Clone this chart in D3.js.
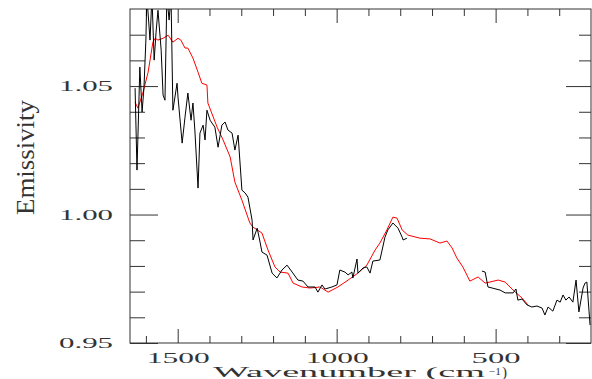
<!doctype html>
<html>
  <head>
    <meta charset="utf-8" />
    <script src="https://cdn.jsdelivr.net/npm/d3@7"></script>
    <style>
      body{margin:0;padding:0;background:#fff;}
      text{font-family:"Liberation Serif",serif;fill:#333;}
    </style>
  </head>
  <body>
<script>

  // dimensioni della finestra e dell'area del grafico
  var W = 592, H = 379;
  var margin = {top: 9, right: 1, bottom: 36, left: 130};
  var width  = W - margin.left - margin.right;
  var height = H - margin.top - margin.bottom;

  // tick
  var yMajor = [0.95, 1.00, 1.05];
  var yMinor = [0.96, 0.97, 0.98, 0.99, 1.01, 1.02, 1.03, 1.04, 1.06, 1.07];
  var xMajor = [1500, 1000, 500];
  var xMinor = [1600, 1400, 1300, 1200, 1100, 900, 800, 700, 600, 400, 300];

  // spettro misurato (nero), due tratti separati: [numero d'onda, emissivita']
  var measuredA = [
    [1634,1.0492],[1628,1.0173],[1619,1.0574],[1612,1.0399],[1606,1.0496],[1600,1.0679],
    [1597,1.085],[1587,1.0679],[1581,1.085],[1574,1.0601],[1568,1.0710],[1562,1.0795],
    [1552,1.0640],[1546,1.0465],[1540,1.0445],[1534,1.085],[1527,1.0757],[1521,1.085],
    [1515,1.0406],[1502,1.0511],[1499,1.0457],[1486,1.0278],[1477,1.0379],[1468,1.0473],
    [1458,1.0367],[1452,1.0434],[1446,1.0329],[1436,1.0103],[1430,1.0317],[1420,1.0348],
    [1414,1.0290],[1408,1.0406],[1398,1.0367],[1392,1.0356],[1383,1.0340],[1373,1.0262],
    [1361,1.0348],[1351,1.0360],[1342,1.0329],[1329,1.0317],[1320,1.0251],[1310,1.0309],
    [1298,1.0095],[1288,1.0084],[1279,1.0068],[1266,0.9978],[1263,0.9901],[1250,0.9947],
    [1241,0.9893],[1235,0.9854],[1219,0.9842],[1203,0.9772],[1188,0.9753],[1172,0.9784],
    [1156,0.9803],[1140,0.9776],[1122,0.9745],[1106,0.9741],[1090,0.9718],[1068,0.9718],
    [1059,0.9698],[1046,0.9726],[1037,0.9710],[1015,0.9718],[999,0.9726],[990,0.9784],
    [974,0.9776],[964,0.9765],[952,0.9776],[949,0.9753],[936,0.9827],[933,0.9772],
    [917,0.9792],[905,0.9796],[895,0.9772],[886,0.9819],[864,0.9823],[848,0.9912],
    [839,0.9940],[823,0.9967],[807,0.9947],[794,0.9912],[791,0.9901],[779,0.9908]
  ];
  var measuredB = [
    [543,0.9780],[533,0.9776],[524,0.9718],[511,0.9714],[486,0.9706],[470,0.9695],
    [445,0.9695],[436,0.9710],[430,0.9667],[417,0.9671],[401,0.9648],[386,0.9640],
    [370,0.9644],[354,0.9636],[345,0.9609],[335,0.9640],[320,0.9624],[307,0.9667],
    [297,0.9659],[288,0.9687],[279,0.9667],[269,0.9679],[257,0.9659],[247,0.9745],
    [238,0.9621],[225,0.9714],[219,0.9733],[213,0.9737],[206,0.9621],[203,0.9570]
  ];

  // spettro modello (rosso)
  var model = [
    [1634,1.0437],[1625,1.0414],[1609,1.0476],[1593,1.0554],[1578,1.0671],[1571,1.0686],
    [1562,1.0679],[1546,1.0686],[1530,1.0698],[1515,1.0671],[1499,1.0686],[1490,1.0679],
    [1477,1.0648],[1468,1.0648],[1452,1.0609],[1436,1.0554],[1424,1.0511],[1408,1.0504],
    [1405,1.0434],[1376,1.0340],[1357,1.0290],[1335,1.0224],[1320,1.0126],[1298,1.0056],
    [1273,0.9967],[1263,0.9951],[1235,0.9928],[1216,0.9862],[1194,0.9796],[1178,0.9776],
    [1153,0.9772],[1137,0.9733],[1109,0.9718],[1084,0.9714],[1052,0.9718],[1027,0.9698],
    [996,0.9718],[964,0.9745],[933,0.9772],[905,0.9803],[879,0.9862],[864,0.9889],
    [842,0.9940],[823,0.9990],[810,0.9986],[794,0.9940],[776,0.9920],[738,0.9908],
    [706,0.9905],[675,0.9889],[653,0.9897],[637,0.9870],[622,0.9831],[603,0.9796],
    [581,0.9741],[555,0.9757],[533,0.9733],[492,0.9745],[470,0.9737],[445,0.9706],
    [417,0.9675],[398,0.9648]
  ];

  var svg = d3.select("body").append("svg")
      .attr("width", W).attr("height", H)
    .append("g")
      .attr("transform", "translate(" + margin.left + "," + margin.top + ")");

  // scale (asse x invertito)
  var x = d3.scaleLinear().domain([1650, 200]).range([0, width]);
  var y = d3.scaleLinear().domain([0.95, 1.08]).range([height, 0]);

  svg.append("clipPath").attr("id", "clip")
    .append("rect").attr("width", width).attr("height", height);

  var line = d3.line().x(function(d){ return x(d[0]); }).y(function(d){ return y(d[1]); });

  var tickColor = "#333";

  function addAxis(axis, tx, ty) {
    var g = svg.append("g").attr("transform", "translate(" + tx + "," + ty + ")").call(axis);
    g.select(".domain").remove();
    g.selectAll("line").attr("stroke", tickColor);
    return g;
  }

  // assi: tick verso l'interno
  addAxis(d3.axisLeft(y).tickValues(yMinor).tickSize(-15).tickFormat(""), 0, 0);
  var left = addAxis(d3.axisLeft(y).tickValues(yMajor).tickSize(-28).tickPadding(17).tickFormat(d3.format(".2f")), 0, 0);
  addAxis(d3.axisRight(y).tickValues(yMinor).tickSize(-12).tickFormat(""), width, 0);
  addAxis(d3.axisRight(y).tickValues(yMajor).tickSize(-25).tickFormat(""), width, 0);
  addAxis(d3.axisBottom(x).tickValues(xMinor).tickSize(-7).tickFormat(""), 0, height);
  var bottom = addAxis(d3.axisBottom(x).tickValues(xMajor).tickSize(-14).tickPadding(9).tickFormat(d3.format("d")), 0, height);
  addAxis(d3.axisTop(x).tickValues(xMinor).tickSize(-7).tickFormat(""), 0, 0);
  addAxis(d3.axisTop(x).tickValues(xMajor).tickSize(-14).tickFormat(""), 0, 0);

  left.selectAll("text").attr("font-size", 15).attr("font-family", "Liberation Serif")
    .attr("textLength", 54).attr("lengthAdjust", "spacingAndGlyphs").attr("fill", "#333");
  bottom.selectAll("text").attr("font-size", 15).attr("font-family", "Liberation Serif")
    .attr("textLength", function(d){ return d >= 1000 ? 63 : 49; })
    .attr("lengthAdjust", "spacingAndGlyphs").attr("fill", "#333");

  // cornice
  svg.append("rect").attr("width", width).attr("height", height)
    .attr("fill", "none").attr("stroke", tickColor).attr("stroke-width", 1);

  // curve
  var plot = svg.append("g").attr("clip-path", "url(#clip)");
  plot.append("path").datum(model).attr("d", line)
    .attr("fill", "none").attr("stroke", "#ff0000").attr("stroke-width", 1);
  [measuredA, measuredB].forEach(function(s){
    plot.append("path").datum(s).attr("d", line)
      .attr("fill", "none").attr("stroke", "#000").attr("stroke-width", 1);
  });

  // etichette degli assi
  var xl = svg.append("g").attr("transform", "translate(" + (-margin.left) + "," + (-margin.top) + ")");
  xl.append("text").attr("x", 213).attr("y", 377).attr("font-size", 15)
    .attr("textLength", 272).attr("lengthAdjust", "spacingAndGlyphs").text("Wavenumber (cm");
  xl.append("text").attr("x", 489).attr("y", 375).attr("font-size", 10)
    .attr("textLength", 12).attr("lengthAdjust", "spacingAndGlyphs").text("\u22121");
  xl.append("text").attr("x", 502).attr("y", 377).attr("font-size", 15).text(")");
  xl.append("text").attr("transform", "translate(34,215) rotate(-90)")
    .attr("font-size", 26).attr("textLength", 115).attr("lengthAdjust", "spacingAndGlyphs")
    .attr("fill", "#444").text("Emissivity");

</script>
  </body>
</html>
